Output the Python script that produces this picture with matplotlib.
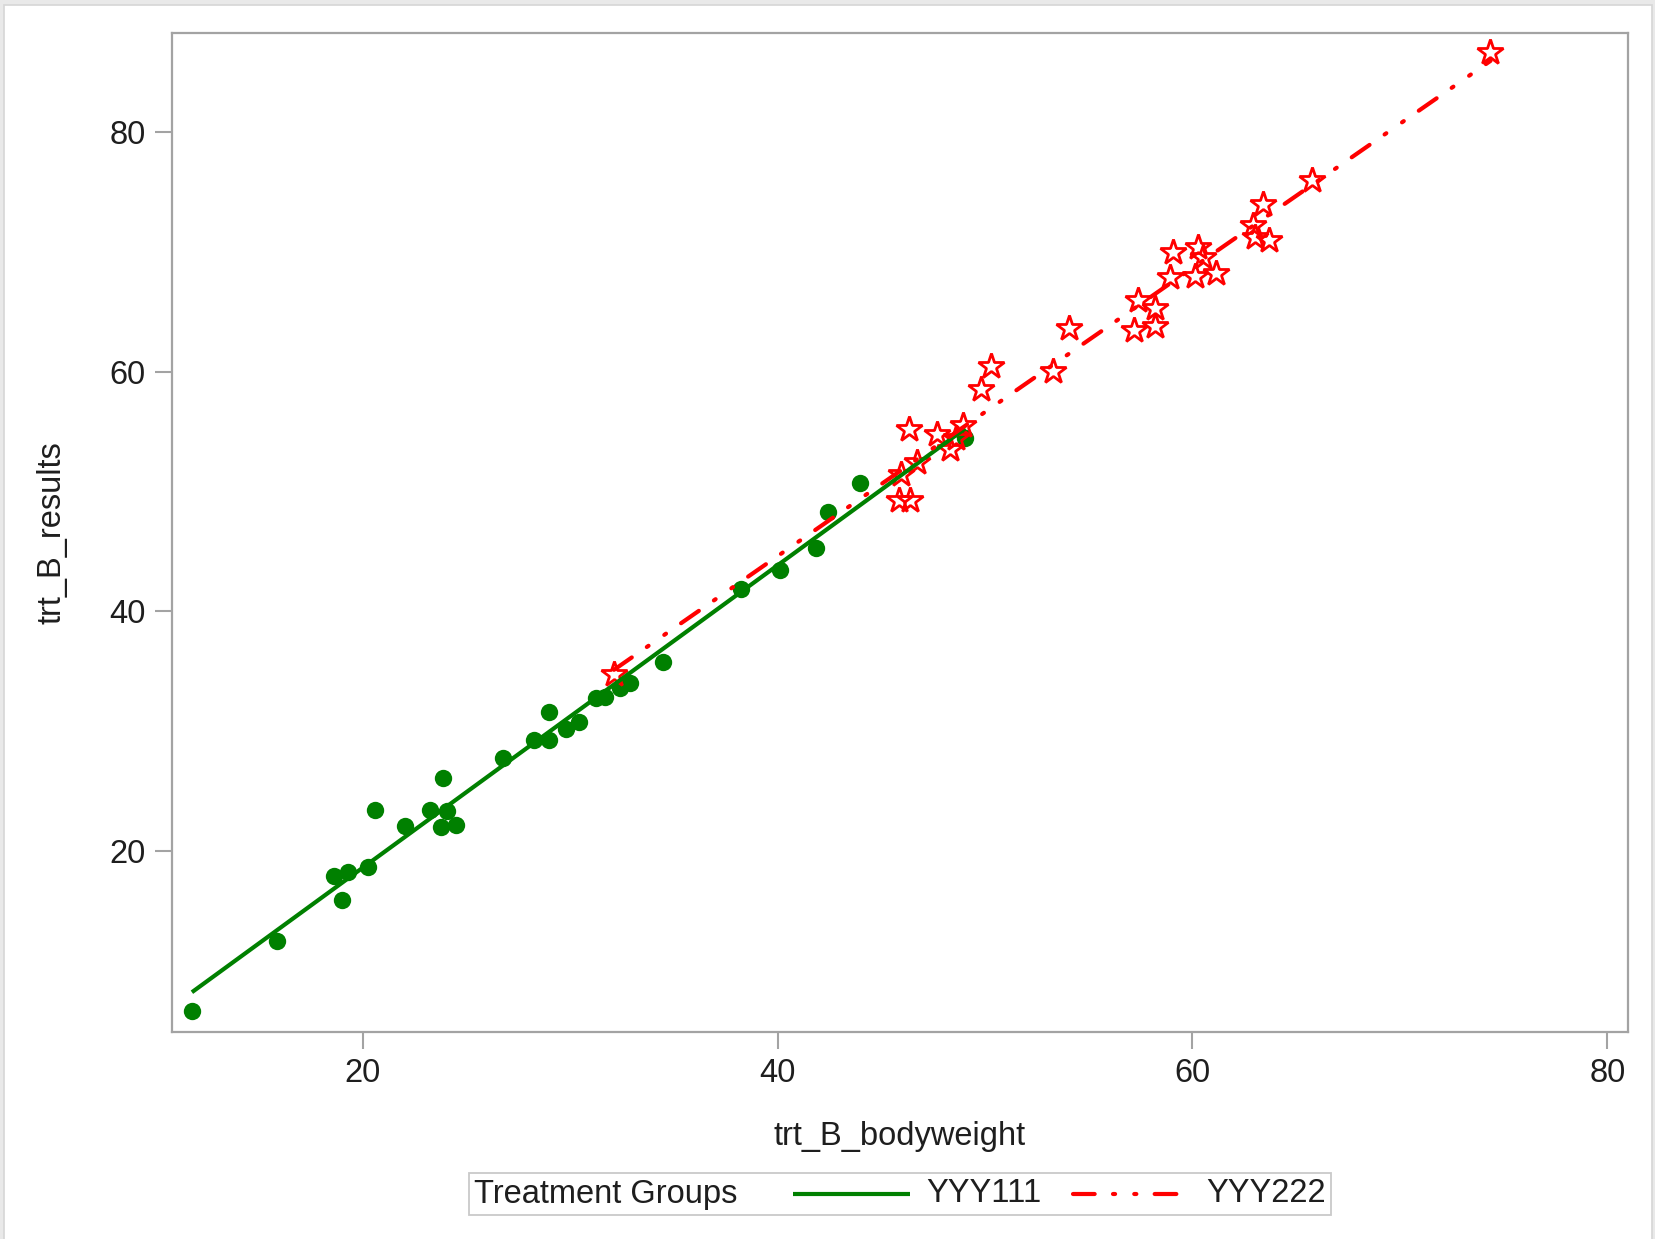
import numpy as np
import matplotlib
matplotlib.use("Agg")
import matplotlib.pyplot as plt
from matplotlib.lines import Line2D
from matplotlib.patches import Rectangle
from matplotlib.offsetbox import AnchoredOffsetbox, HPacker, TextArea, DrawingArea

plt.rcParams['font.family'] = ['Liberation Sans', 'DejaVu Sans']

# ---- data -------------------------------------------------------------
group_names = ["YYY111", "YYY222"]

yyy111_bodyweight = [11.76, 15.88, 18.98, 18.63, 19.29, 20.25, 20.60, 22.04, 23.26, 23.87,
                     23.77, 24.07, 24.48, 26.77, 28.24, 29.00, 29.00, 29.82, 30.40, 31.25,
                     31.70, 32.40, 32.90, 34.45, 38.22, 40.10, 41.83, 42.44, 43.97, 49.05]
yyy111_results = [6.6, 12.5, 15.95, 17.9, 18.24, 18.7, 23.4, 22.1, 23.4, 26.1,
                  22.0, 23.35, 22.2, 27.75, 29.3, 29.3, 31.6, 30.15, 30.8, 32.75,
                  32.9, 33.6, 34.0, 35.8, 41.85, 43.5, 45.3, 48.3, 50.7, 54.5]

yyy222_bodyweight = [32.11, 45.85, 46.40, 45.95, 46.70, 46.33, 47.70, 48.30, 48.60, 48.94,
                     49.80, 50.30, 53.28, 54.05, 57.20, 57.38, 58.18, 58.18, 58.90, 59.07,
                     60.10, 60.27, 60.50, 61.15, 62.90, 63.00, 63.40, 63.70, 65.77, 74.37]
yyy222_results = [34.8, 49.3, 49.3, 51.5, 52.5, 55.2, 54.8, 53.6, 54.5, 55.6,
                  58.6, 60.5, 60.1, 63.7, 63.5, 66.0, 65.3, 63.8, 67.9, 70.0,
                  68.0, 70.4, 69.6, 68.3, 72.3, 71.3, 74.0, 71.0, 76.0, 86.7]

x_ticks = [20, 40, 60, 80]
y_ticks = [20, 40, 60, 80]

# ---- styling ------------------------------------------------------------
GREEN = "#008000"
RED = "#ff0000"
AXIS_GRAY = "#a3a3a3"
TEXT = "#1e1e1e"
FS = 23.5
LW = 3.0
dashdotdot = (0, (5.2, 4.4, 0.5, 4.6, 0.5, 4.4))

W, H = 1655, 1239
fig = plt.figure(figsize=(W / 100, H / 100), dpi=100, facecolor="#e9e9e9")
# white page with a thin light border
fig.patches.append(Rectangle((4 / W, -0.01), (1652 - 4) / W, 1.01 - 5 / H,
                             transform=fig.transFigure, facecolor="white",
                             edgecolor="#d6d6d6", linewidth=1.2, zorder=-10))

ax = fig.add_axes([172 / W, 1 - 1031.5 / H, (1628 - 172) / W, (1031.5 - 33) / H])
ax.set_facecolor("white")

# scatter markers
ax.plot(yyy111_bodyweight, yyy111_results, linestyle="none", marker="o",
        markersize=12.5, color=GREEN, markeredgewidth=0, zorder=3)
ax.plot(yyy222_bodyweight, yyy222_results, linestyle="none", marker="*",
        markersize=19, markerfacecolor="none", markeredgecolor=RED,
        markeredgewidth=2.0, zorder=3)

# linear regression fit per group, spanning each group's x range
def fit_line(xs, ys):
    xs = np.asarray(xs)
    ys = np.asarray(ys)
    b1, b0 = np.polyfit(xs, ys, 1)
    xx = np.array([xs.min(), xs.max()])
    return xx, b0 + b1 * xx

gx, gy = fit_line(yyy111_bodyweight, yyy111_results)
rx, ry = fit_line(yyy222_bodyweight, yyy222_results)
ax.plot(gx, gy, color=GREEN, lw=LW, solid_capstyle="butt", zorder=4)
ax.plot(rx, ry, color=RED, lw=LW, linestyle=dashdotdot,
        dash_capstyle="round", zorder=5)

ax.set_xlim(10.8, 81.0)
ax.set_ylim(4.93, 88.3)
ax.set_xticks(x_ticks)
ax.set_yticks(y_ticks)
ax.set_xticklabels([str(t) for t in x_ticks])
ax.set_yticklabels([str(t) for t in y_ticks])

for s in ax.spines.values():
    s.set_color(AXIS_GRAY)
    s.set_linewidth(1.6)
ax.tick_params(axis="both", direction="out", length=12, width=1.5,
               color=AXIS_GRAY, labelsize=FS, labelcolor=TEXT, pad=7)

ax.set_xlabel("trt_B_bodyweight", fontsize=FS, color=TEXT, labelpad=23)
ax.set_ylabel("trt_B_results", fontsize=FS, color=TEXT, labelpad=30)

# ---- legend: inline title followed by the two group keys --------------------
def key_sample(**line_kw):
    da = DrawingArea(88, 16, 0, 0)
    da.add_artist(Line2D([2, 86], [8, 8], **line_kw))
    return da

txt_kw = dict(fontsize=FS, color=TEXT)
item1 = HPacker(children=[key_sample(color=GREEN, lw=LW, solid_capstyle="butt"),
                          TextArea("YYY111", textprops=txt_kw)],
                sep=10, align="center", pad=0)
item2 = HPacker(children=[key_sample(color=RED, lw=LW, linestyle=dashdotdot,
                                     dash_capstyle="round"),
                          TextArea("YYY222", textprops=txt_kw)],
                sep=10, align="center", pad=0)
items = HPacker(children=[item1, item2], sep=20, align="center", pad=0)
legend_row = HPacker(children=[TextArea("Treatment Groups", textprops=txt_kw), items],
                     sep=38, align="center", pad=0)

legend_box = AnchoredOffsetbox(loc="center", child=legend_row, pad=0.18,
                               borderpad=0, frameon=True,
                               prop=dict(size=FS),
                               bbox_to_anchor=(900 / W, 1 - 1194 / H),
                               bbox_transform=fig.transFigure)
legend_box.patch.set_edgecolor("#c9c9c9")
legend_box.patch.set_linewidth(1.3)
legend_box.patch.set_boxstyle("square", pad=0)
fig.add_artist(legend_box)

fig.savefig("out.png", dpi=100, facecolor=fig.get_facecolor())
